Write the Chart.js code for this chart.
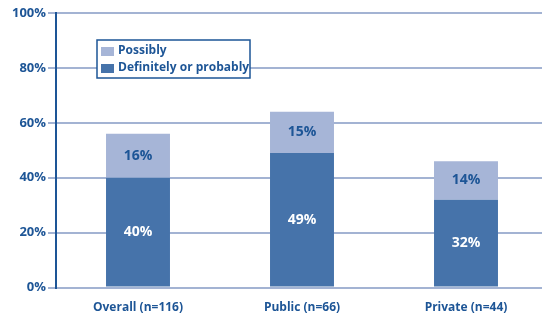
<!DOCTYPE html>
<html>
<head>
<meta charset="utf-8">
<script src="https://cdn.jsdelivr.net/npm/chart.js@4"></script>
<style>
    html, body { margin: 0; padding: 0; background: #fff; overflow: hidden; }
    body { width: 542px; height: 320px; }
    #wrap { width: 548px; height: 320px; }
</style>
</head>
<body>
<div id="wrap"><canvas id="surveyChart"></canvas></div>
<script>
// Chart data
const categories = ['Overall (n=116)', 'Public (n=66)', 'Private (n=44)'];
const definitelyValues = [40, 49, 32];
const possiblyValues = [16, 15, 14];
const yTicks = [0, 20, 40, 60, 80, 100];

const DARK = '#4673AA';
const LIGHT = '#A6B5D7';
const TEXT = '#1D5596';
const GRID = '#A3B3D3';
const FONT = "'Open Sans', 'DejaVu Sans', sans-serif";

// Value labels inside each segment
const segmentLabels = {
    id: 'segmentLabels',
    afterDatasetsDraw(chart) {
        const ctx = chart.ctx;
        ctx.save();
        ctx.font = 'bold 14px ' + FONT;
        ctx.textAlign = 'center';
        ctx.textBaseline = 'middle';
        chart.data.datasets.forEach((ds, i) => {
            const meta = chart.getDatasetMeta(i);
            meta.data.forEach((bar, j) => {
                const p = bar.getProps(['x', 'y', 'base'], true);
                ctx.fillStyle = ds.labelColor;
                ctx.fillText(ds.data[j] + '%', p.x, (p.y + p.base) / 2);
            });
        });
        ctx.restore();
    }
};

// Boxed legend inside the plot
const boxLegend = {
    id: 'boxLegend',
    afterDatasetsDraw(chart) {
        const ctx = chart.ctx;
        const area = chart.chartArea;
        const x = area.left + 41, y = area.top + 27;
        ctx.save();
        ctx.fillStyle = '#fff';
        ctx.fillRect(x, y, 153, 38);
        ctx.strokeStyle = TEXT;
        ctx.lineWidth = 1.5;
        ctx.strokeRect(x, y, 153, 38);
        ctx.font = 'bold 12px ' + FONT;
        ctx.textBaseline = 'middle';
        const items = [chart.data.datasets[1], chart.data.datasets[0]];
        items.forEach((ds, k) => {
            const cy = y + 11 + k * 17;
            ctx.fillStyle = ds.backgroundColor;
            ctx.fillRect(x + 4, cy - 4, 13, 9);
            ctx.fillStyle = TEXT;
            ctx.fillText(ds.label, x + 21, cy);
        });
        ctx.restore();
    }
};

new Chart(document.getElementById('surveyChart'), {
    type: 'bar',
    data: {
        labels: categories,
        datasets: [
            { label: 'Definitely or probably', data: definitelyValues, backgroundColor: DARK, labelColor: '#fff' },
            { label: 'Possibly', data: possiblyValues, backgroundColor: LIGHT, labelColor: TEXT }
        ]
    },
    options: {
        responsive: true,
        maintainAspectRatio: false,
        animation: false,
        layout: { padding: { top: 13, right: 0, left: 0, bottom: 0 } },
        datasets: {
            bar: { categoryPercentage: 1, barPercentage: 0.39 }
        },
        scales: {
            x: {
                stacked: true,
                grid: { display: false },
                border: { display: false },
                ticks: { color: TEXT, font: { family: FONT, weight: 'bold', size: 12 }, padding: 5 }
            },
            y: {
                stacked: true,
                min: 0,
                max: 100,
                afterBuildTicks(scale) {
                    scale.ticks = yTicks.map(v => ({ value: v }));
                },
                afterFit(scale) { scale.width = 56; },
                grid: { color: GRID, lineWidth: 2, tickLength: 8, drawTicks: true },
                border: { color: TEXT, width: 2 },
                ticks: {
                    color: TEXT,
                    font: { family: FONT, weight: 'bold', size: 13 },
                    padding: 2,
                    callback: v => v + '%'
                }
            }
        },
        plugins: {
            legend: { display: false },
            tooltip: { enabled: false }
        }
    },
    plugins: [segmentLabels, boxLegend]
});
</script>
</body>
</html>
